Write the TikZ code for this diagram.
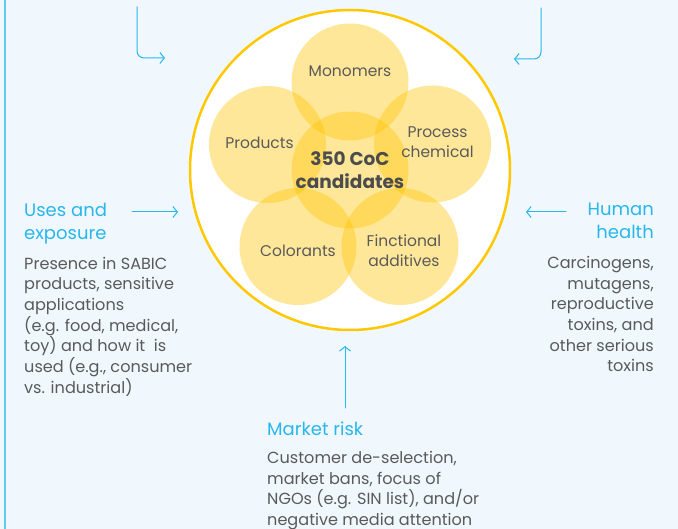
\documentclass[tikz,border=0pt]{standalone}
\usepackage{fontspec}
\setmainfont{Poppins}
\usetikzlibrary{arrows.meta,positioning}
\definecolor{PaleSky}{HTML}{F0F8FE}
\definecolor{SkyEdge}{HTML}{5FCBF5}
\definecolor{SkyText}{HTML}{29B6EE}
\definecolor{InkGray}{HTML}{5A5A5A}
\definecolor{GoldRing}{HTML}{FFC800}
\definecolor{Amber}{HTML}{FFC400}

\tikzset{
  flow/.style={draw=SkyText, line width=1pt, -{Straight Barb[length=4.5pt,width=11pt]}},
  petal/.style={circle, minimum size=117pt, inner sep=0pt, fill=Amber, fill opacity=0.4},
  petaltext/.style={text=InkGray, font=\fontsize{15.5}{19.5}\selectfont, align=center},
  headtext/.style={text=SkyText, font=\fontsize{18}{23}\selectfont, inner sep=0pt, text depth=5pt},
  bodytext/.style={text=InkGray, font=\fontsize{16.1}{20.7}\selectfont, inner sep=0pt}
}

\begin{document}
\begin{tikzpicture}[x=1pt, y=-1pt, line cap=round, line join=round]

% Background
\fill[PaleSky] (0,0) rectangle (678,529);
\useasboundingbox (0,0) rectangle (678,529);
\draw[SkyEdge, line width=2pt] (4.5,0) -- (4.5,529);

% === Central pool of candidates ===
\node (pool) [circle, draw=GoldRing, line width=2.5pt, fill=white,
  minimum size=320pt, inner sep=0pt] at (350,170) {};

% Overlapping source circles
\foreach \name/\x/\y in {mono/350/82, prod/267.5/144.5, proc/432.5/144,
  colo/298/246.5, func/400/246.5, core/350/170} {
  \node (\name) [petal] at (\x,\y) {};
}

% Circle labels
\node (monoL) [petaltext] at ([yshift=11pt]mono) {Monomers};
\node (prodL) [petaltext] at ([xshift=-8pt, yshift=2pt]prod) {Products};
\node (procL) [petaltext] at ([xshift=5pt, yshift=2pt]proc) {Process\\chemical};
\node (coloL) [petaltext] at ([yshift=-4pt]colo) {Colorants};
\node (funcL) [petaltext] at ([xshift=4pt, yshift=-4pt]func) {Finctional\\additives};
\node (coreL) [text=InkGray!85!black, font=\fontsize{18.5}{23}\bfseries\selectfont, align=center]
  at (core) {350 CoC\\candidates};

% === Uses and exposure ===
\node (usesT) [headtext, anchor=north west, align=left] at (24,203)
  {Uses and\\exposure};
\node (usesB) [bodytext, below=12pt of usesT.south west, anchor=north west, align=left]
  {Presence in SABIC\\products, sensitive\\applications\\(e.g. food, medical,\\toy) and how it\ \ is\\used (e.g., consumer\\vs. industrial)};
\coordinate (usesS) at (132,212);
\coordinate (usesE) at (178,212);
\draw[flow] (usesS) -- (usesE);

% === Human health ===
\node (humT) [headtext, anchor=north east, align=right] at (654,203)
  {Human\\health};
\node (humB) [bodytext, below=12pt of humT.south east, anchor=north east, align=right]
  {Carcinogens,\\mutagens,\\reproductive\\toxins, and\\other serious\\toxins};
\coordinate (humS) at (566,212);
\coordinate (humE) at (526,212);
\draw[flow] (humS) -- (humE);

% === Market risk ===
\node (mktT) [headtext, anchor=north west] at (267,422) {Market risk};
\node (mktB) [bodytext, below=10pt of mktT.south west, anchor=north west, align=left]
  {Customer de-selection,\\market bans, focus of\\NGOs (e.g. SIN list), and/or\\negative media attention};
\coordinate (mktS) at (345,408);
\coordinate (mktE) at (345,346);
\draw[flow] (mktS) -- (mktE);

% === Inputs from above ===
\coordinate (tlS) at (137,7);
\coordinate (tlE) at (165,58);
\draw[flow, rounded corners=7pt] (tlS) |- (tlE);
\coordinate (trS) at (541,8);
\coordinate (trE) at (514,59);
\draw[flow, rounded corners=7pt] (trS) |- (trE);

\end{tikzpicture}
\end{document}
